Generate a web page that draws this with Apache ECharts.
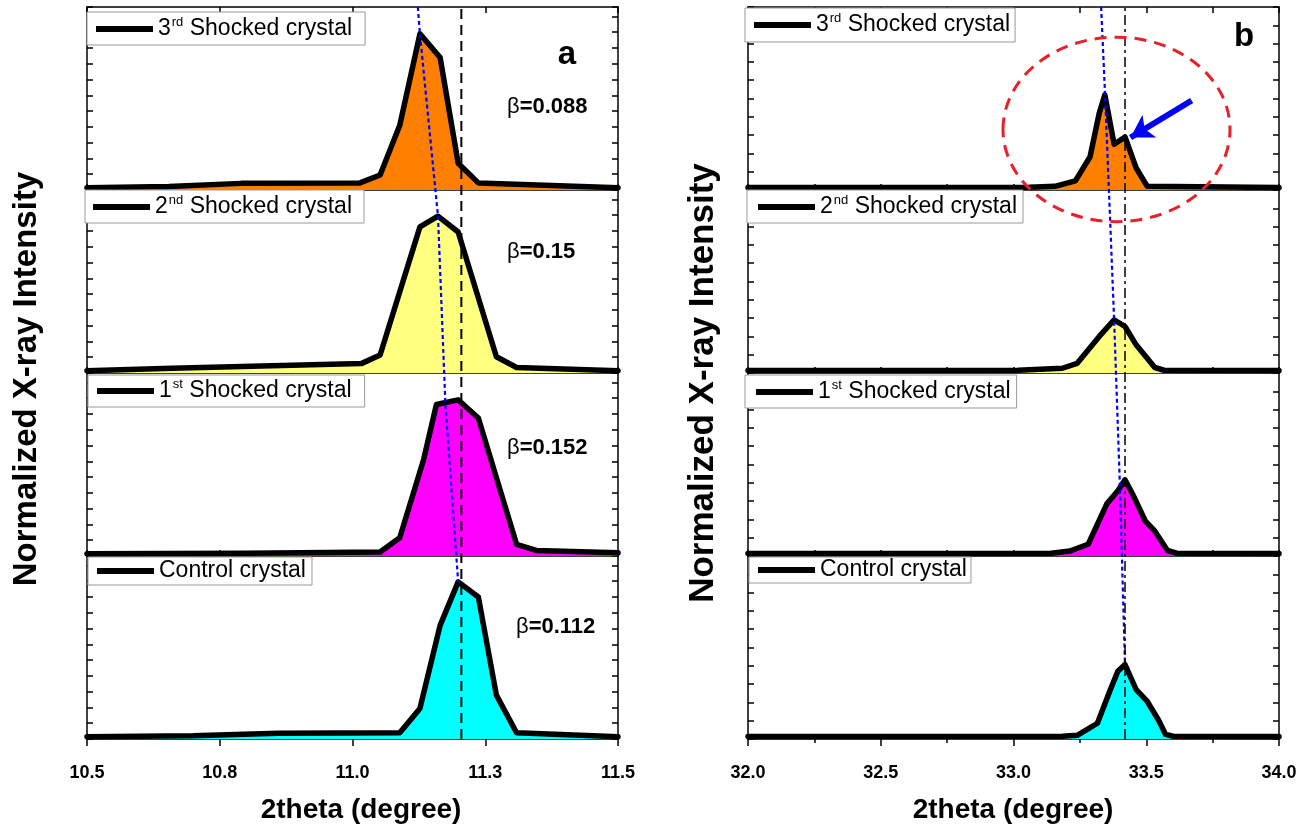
<!DOCTYPE html>
<html><head><meta charset="utf-8">
<script src="https://cdn.jsdelivr.net/npm/echarts@6/dist/echarts.min.js"></script>
<style>html,body{margin:0;padding:0;background:#fff}#c{width:1309px;height:826px}</style>
</head><body><div id="c"></div><script>
// ---------------- data ----------------
const xTickLabelsA = ['10.5', '10.8', '11.0', '11.3', '11.5'];
const xTickLabelsB = ['32.0', '32.5', '33.0', '33.5', '34.0'];
const panelNames = ['3rd Shocked crystal', '2nd Shocked crystal', '1st Shocked crystal', 'Control crystal'];
const betaLabels = ['β=0.088', 'β=0.15', 'β=0.152', 'β=0.112'];

// panel a (2theta ~ 11.2)
const a3_x = [10.5, 10.654, 10.79, 11.014, 11.052, 11.089, 11.127, 11.165, 11.199, 11.237, 11.5];
const a3_y = [0.015, 0.022, 0.042, 0.045, 0.095, 0.41, 0.99, 0.84, 0.17, 0.045, 0.015];
const a2_x = [10.5, 10.66, 11.0175, 11.052, 11.127, 11.161, 11.199, 11.271, 11.309, 11.5];
const a2_y = [0.015, 0.03, 0.061, 0.114, 0.926, 0.994, 0.894, 0.103, 0.035, 0.015];
const a1_x = [10.5, 10.8, 11.052, 11.089, 11.134, 11.158, 11.199, 11.237, 11.309, 11.346, 11.5];
const a1_y = [0.015, 0.018, 0.025, 0.116, 0.612, 0.96, 0.99, 0.875, 0.074, 0.035, 0.02];
const a0_x = [10.5, 10.7, 10.86, 11.089, 11.127, 11.165, 11.199, 11.237, 11.271, 11.309, 11.5];
const a0_y = [0.015, 0.02, 0.036, 0.04, 0.194, 0.72, 0.996, 0.90, 0.278, 0.04, 0.015];

// panel b (2theta ~ 33.4)
const b3_x = [32, 33.059, 33.156, 33.233, 33.288, 33.323, 33.344, 33.379, 33.420, 33.462, 33.504, 34];
const b3_y = [0.013, 0.015, 0.02, 0.05, 0.18, 0.42, 0.52, 0.25, 0.29, 0.12, 0.02, 0.013];
const b2_x = [32, 33.017, 33.184, 33.24, 33.323, 33.379, 33.42, 33.462, 33.532, 33.567, 34];
const b2_y = [0.013, 0.015, 0.026, 0.053, 0.2, 0.29, 0.254, 0.154, 0.03, 0.015, 0.013];
const b1_x = [32, 33.142, 33.212, 33.281, 33.351, 33.393, 33.42, 33.448, 33.497, 33.532, 33.58, 33.615, 34];
const b1_y = [0.013, 0.015, 0.027, 0.064, 0.284, 0.357, 0.416, 0.34, 0.19, 0.137, 0.03, 0.015, 0.013];
const b0_x = [32, 33.184, 33.24, 33.316, 33.365, 33.393, 33.42, 33.462, 33.504, 33.546, 33.573, 33.601, 34];
const b0_y = [0.013, 0.015, 0.02, 0.086, 0.27, 0.37, 0.407, 0.27, 0.205, 0.104, 0.025, 0.015, 0.013];

// peak-shift guide lines (panel index 0 = top), values in panel units
const blueA_x = [11.123, 11.127, 11.161, 11.175, 11.199];
const blueA_panel = [0, 0, 1, 2, 3];
const blueA_y = [1.16, 0.99, 0.994, 0.96, 0.996];
const blueB_x = [33.330, 33.345, 33.379, 33.40, 33.42];
const blueB_panel = [0, 0, 1, 2, 3];
const blueB_y = [1.0, 0.52, 0.29, 0.416, 0.407];
const refLineA_x = 11.205;
const refLineB_x = 33.42;

// annotation in panel b, 3rd shocked crystal
const arrowB_from = [33.671, 0.489];
const arrowB_to = [33.441, 0.287];
const ellipseB = {cx: 33.388, cy: 0.331, rx: 0.4275, ry: 0.504};

// ---------------- layout / style ----------------
const FONT = '"Liberation Sans", Arial, sans-serif';
const gridTops = [7, 190, 373, 556];
const gridH = 183;
const leftA = 87, leftB = 748, plotW = 531;
const yMaxA = 1.16, yMaxB = 1.0;
const fillColors = ['#FF8000', '#FFFF80', '#FF00FF', '#00FFFF'];
const aX = [a3_x, a2_x, a1_x, a0_x], aY = [a3_y, a2_y, a1_y, a0_y];
const bX = [b3_x, b2_x, b1_x, b0_x], bY = [b3_y, b2_y, b1_y, b0_y];

const grids = [];
for (let side = 0; side < 2; side++) {
  for (let p = 0; p < 4; p++) {
    grids.push({left: side ? leftB : leftA, top: gridTops[p], width: plotW, height: gridH, outerBoundsMode: 'none'});
  }
}
grids.push({left: leftA, top: gridTops[0], width: plotW, height: gridH * 4, outerBoundsMode: 'none'});
grids.push({left: leftB, top: gridTops[0], width: plotW, height: gridH * 4, outerBoundsMode: 'none'});

const black = {color: '#000', width: 1.5};
function xAx(g, isA, position, labelled) {
  const min = isA ? 10.5 : 32, max = isA ? 11.5 : 34;
  const labels = isA ? xTickLabelsA : xTickLabelsB;
  const step = isA ? 0.25 : 0.5;
  return {
    type: 'value', gridIndex: g, position: position, min: min, max: max,
    interval: labelled ? step : 0.25,
    axisLine: {show: true, onZero: false, lineStyle: black},
    axisTick: {show: true, inside: !labelled, length: labelled ? 7 : 6, lineStyle: black},
    minorTick: {show: labelled && !isA, splitNumber: 2, length: 4, lineStyle: black},
    axisLabel: {
      show: labelled, margin: 25, color: '#000', fontSize: 18, fontWeight: 'bold', fontFamily: FONT,
      formatter: function (v) { return labels[Math.round((v - min) / step)] || ''; }
    },
    splitLine: {show: false}, minorSplitLine: {show: false}
  };
}
function yAx(g, isA, position) {
  return {
    type: 'value', gridIndex: g, position: position, min: 0, max: isA ? yMaxA : yMaxB, interval: 0.1,
    axisLine: {show: true, onZero: false, lineStyle: black},
    axisTick: {show: true, inside: true, length: 6, lineStyle: black},
    axisLabel: {show: false}, splitLine: {show: false}
  };
}
const xAxes = [], yAxes = [];
for (let g = 0; g < 8; g++) xAxes.push(xAx(g, g < 4, 'bottom', g === 3 || g === 7));
xAxes.push(xAx(0, true, 'top', false));
xAxes.push(xAx(4, false, 'top', false));
xAxes.push({type: 'value', gridIndex: 8, min: 10.5, max: 11.5, show: false});
xAxes.push({type: 'value', gridIndex: 9, min: 32, max: 34, show: false});
for (let g = 0; g < 8; g++) yAxes.push(yAx(g, g < 4, 'left'));
for (let g = 0; g < 8; g++) yAxes.push(yAx(g, g < 4, 'right'));
yAxes.push({type: 'value', gridIndex: 8, min: 0, max: 4, show: false});
yAxes.push({type: 'value', gridIndex: 9, min: 0, max: 4, show: false});

function zip(xs, ys) { return xs.map((x, i) => [x, ys[i]]); }
const series = [];
const legends = [];
const legendPos = [
  [87, 12, [4, 13, 3, 9]], [85, 190, [4, 12, 3, 8]], [88, 375, [3, 13, 3, 9]], [88, 557, [1, 6, 1, 9]],
  [745, 8, [4, 5, 4, 9]], [747, 190, [4, 6, 3, 11]], [745, 375, [4, 6, 3, 11]], [749, 557, [0, 4, 0, 9]]
];
function supFormat(name) {
  return name.replace(/^[ab]:/, '').replace(/^(\d)(st|nd|rd|th)/, '$1{s|$2}');
}
for (let side = 0; side < 2; side++) {
  for (let p = 0; p < 4; p++) {
    const g = side * 4 + p;
    const name = (side ? 'b:' : 'a:') + panelNames[p];
    const s = {
      type: 'line', name: name, xAxisIndex: g, yAxisIndex: g,
      data: side ? zip(bX[p], bY[p]) : zip(aX[p], aY[p]),
      symbol: 'none', clip: false, z: 2, silent: true,
      itemStyle: {color: '#000'},
      lineStyle: {color: '#000', width: 5.5, join: 'round', cap: 'round'},
      areaStyle: {color: fillColors[p], opacity: 1}
    };
    if (side === 1 && p === 0) {
      s.markLine = {
        silent: true, symbol: ['none', 'arrow'], symbolSize: [20, 22], z: 6,
        lineStyle: {color: '#0000FF', width: 6, type: 'solid'}, label: {show: false},
        data: [[{coord: arrowB_from}, {coord: arrowB_to}]]
      };
    }
    series.push(s);
    const lp = legendPos[g];
    legends.push({
      data: [name], left: lp[0], top: lp[1], padding: lp[2], itemGap: 0,
      itemWidth: 57, itemHeight: 6, icon: 'rect', selectedMode: false,
      itemStyle: {color: '#000'},
      backgroundColor: '#fff', borderColor: '#999', borderWidth: 1,
      formatter: supFormat,
      textStyle: {
        fontSize: 23, fontFamily: FONT, color: '#000', lineHeight: 26,
        rich: {s: {fontSize: 13, fontFamily: FONT, color: '#000', lineHeight: 14, verticalAlign: 'top', padding: [0, 0, 12, 1]}}
      }
    });
  }
}
function stack(panels, ys, ymax) { return ys.map((y, i) => (3 - panels[i]) + y / ymax); }
series.push({
  type: 'line', xAxisIndex: 10, yAxisIndex: 16, symbol: 'none', z: 5, silent: true,
  data: zip(blueA_x, stack(blueA_panel, blueA_y, yMaxA)),
  lineStyle: {color: '#0000FF', width: 2.2, type: [4, 3]}
});
series.push({
  type: 'line', xAxisIndex: 10, yAxisIndex: 16, symbol: 'none', z: 5, silent: true,
  data: [[refLineA_x, 0], [refLineA_x, 4]],
  lineStyle: {color: '#000', width: 2, type: [10, 6]}
});
series.push({
  type: 'line', xAxisIndex: 11, yAxisIndex: 17, symbol: 'none', z: 5, silent: true,
  data: zip(blueB_x, stack(blueB_panel, blueB_y, yMaxB)),
  lineStyle: {color: '#0000FF', width: 2.2, type: [4, 3]}
});
series.push({
  type: 'line', xAxisIndex: 11, yAxisIndex: 17, symbol: 'none', z: 5, silent: true,
  data: [[refLineB_x, 0], [refLineB_x, 4]],
  lineStyle: {color: '#000', width: 1.5, type: [10, 4, 3, 4]}
});

const chart = echarts.init(document.getElementById('c'), null, {renderer: 'canvas'});
chart.setOption({
  animation: false, backgroundColor: '#fff',
  grid: grids, xAxis: xAxes, yAxis: yAxes, series: series, legend: legends
});

// text annotations
const betaPos = [[507, 107], [507, 252], [507, 448], [516, 627]];
const graphics = [];
betaLabels.forEach((t, i) => {
  graphics.push({
    type: 'text', x: betaPos[i][0], y: betaPos[i][1], z: 10,
    style: {
      text: '{g|' + t.charAt(0) + '}{v|' + t.slice(1) + '}', verticalAlign: 'middle', align: 'left',
      rich: {
        g: {fontSize: 22, fontFamily: FONT, fill: '#000', fontWeight: 'normal'},
        v: {fontSize: 22, fontFamily: FONT, fill: '#000', fontWeight: 'bold'}
      }
    }
  });
});
[['a', 567, 55], ['b', 1244, 37]].forEach(d => {
  graphics.push({type: 'text', x: d[1], y: d[2], z: 10,
    style: {text: d[0], font: 'bold 33px ' + FONT, fill: '#000', align: 'center', verticalAlign: 'middle'}});
});
[[361, 810], [1013, 810]].forEach(d => {
  graphics.push({type: 'text', x: d[0], y: d[1], z: 10,
    style: {text: '2theta (degree)', font: 'bold 28px ' + FONT, fill: '#000', align: 'center', verticalAlign: 'middle'}});
});
[[27, 379, 33], [703, 383, 35]].forEach(d => {
  graphics.push({type: 'text', x: d[0], y: d[1], rotation: Math.PI / 2, z: 10,
    style: {text: 'Normalized X-ray Intensity', font: 'bold ' + d[2] + 'px ' + FONT, fill: '#000', align: 'center', verticalAlign: 'middle'}});
});
// red dashed ellipse in data coordinates of panel b (3rd)
const c0 = chart.convertToPixel({seriesIndex: 4}, [ellipseB.cx, ellipseB.cy]);
const c1 = chart.convertToPixel({seriesIndex: 4}, [ellipseB.cx + ellipseB.rx, ellipseB.cy + ellipseB.ry]);
graphics.push({
  type: 'ellipse', z: 8, silent: true,
  shape: {cx: c0[0], cy: c0[1], rx: Math.abs(c1[0] - c0[0]), ry: Math.abs(c1[1] - c0[1])},
  style: {fill: 'none', stroke: '#E8202A', lineWidth: 3, lineDash: [12, 8]}
});
chart.setOption({graphic: graphics});
</script></body></html>
